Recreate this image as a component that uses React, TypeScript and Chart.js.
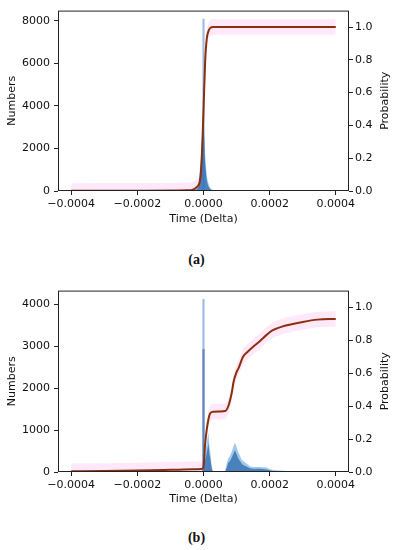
import React, { useEffect, useRef } from 'react';
import { Chart, registerables } from 'chart.js';

Chart.register(...registerables);

// ---- shared ticks ----
const xTicks = [-0.0004, -0.0002, 0, 0.0002, 0.0004];
const probTicks = [0, 0.2, 0.4, 0.6, 0.8, 1.0];
const xMin = -0.00044;
const xMax = 0.00044;
const probMax = 1.1;

// ---- panel (a) ----
const aCountTicks = [0, 2000, 4000, 6000, 8000];
const aCountMax = 8474;
const aHistX = [-0.00004, -0.00003, -0.00002, -0.000015, -0.00001, -0.000005, 0, 0.000005, 0.00001, 0.000015, 0.00002, 0.000025, 0.00003, 0.00004];
const aHistOuter = [0, 40, 150, 350, 1250, 2500, 3800, 1700, 700, 350, 160, 80, 30, 0];
const aHistInner = [0, 15, 70, 200, 850, 1900, 3300, 1300, 480, 200, 90, 40, 10, 0];
const aSpikeX = [0];
const aSpikeCount = [8070];
const aCdfX = [-0.0004, -0.0002, -0.00005, -0.00003, -0.00002, -0.00001, -0.000005, 0, 0.000005, 0.00001, 0.000015, 0.00002, 0.00003, 0.0004];
const aCdfP = [0.001, 0.002, 0.004, 0.01, 0.025, 0.07, 0.21, 0.49, 0.79, 0.93, 0.975, 0.993, 1.0, 1.0];

// ---- panel (b) ----
const bCountTicks = [0, 1000, 2000, 3000, 4000];
const bCountMax = 4330;
const bHistX = [0, 0.000003, 0.000006, 0.000009, 0.000012, 0.000015, 0.000018, 0.000021, 0.000024, 0.000027, 0.00003, 0.000065, 0.00007, 0.000075, 0.00008, 0.000085, 0.00009, 0.000095, 0.0001, 0.000105, 0.00011, 0.000115, 0.00012, 0.00013, 0.00014, 0.00015, 0.00016, 0.00017, 0.00018, 0.00019, 0.0002, 0.00021, 0.00022, 0.00024, 0.00026, 0.00028, 0.0003, 0.00031];
const bHistOuter = [0, 350, 500, 650, 800, 950, 600, 450, 200, 60, 0, 0, 200, 330, 380, 480, 600, 700, 600, 470, 400, 300, 260, 200, 140, 120, 118, 117, 116, 105, 70, 50, 40, 28, 20, 18, 12, 0];
const bHistInner = [0, 200, 320, 420, 550, 700, 420, 300, 120, 30, 0, 0, 100, 220, 260, 340, 430, 520, 430, 330, 270, 200, 170, 130, 90, 80, 75, 75, 70, 60, 40, 25, 20, 12, 8, 6, 4, 0];
const bSpikeX = [0, 0];
const bSpikeCount = [4124, 2930];
const bCdfX = [-0.0004, -0.0003, -0.0002, -0.0001, -0.00003, -0.000005, 0, 0.000005, 0.00001, 0.000015, 0.00002, 0.00003, 0.00005, 0.000066, 0.000076, 0.000086, 0.000091, 0.0001, 0.000106, 0.00012, 0.000132, 0.00015, 0.000171, 0.00019, 0.000207, 0.000243, 0.0003, 0.000345, 0.0004];
const bCdfP = [0.004, 0.006, 0.009, 0.013, 0.016, 0.018, 0.03, 0.17, 0.26, 0.32, 0.355, 0.365, 0.367, 0.37, 0.405, 0.487, 0.547, 0.606, 0.63, 0.7, 0.726, 0.76, 0.795, 0.83, 0.857, 0.885, 0.91, 0.924, 0.928];

// ---- styles ----
const LINE_COLOR = '#8c2f0c';
const GLOW_COLOR = 'rgba(255, 0, 190, 0.09)';
const GLOW_HALF = 0.047;
const OUTER_COLOR = 'rgba(100, 165, 220, 0.6)';
const INNER_COLOR = 'rgba(35, 100, 170, 0.7)';
const SPIKE_COLORS = ['rgba(150, 180, 225, 0.9)', 'rgba(80, 120, 190, 0.8)'];
const FONT = { family: 'DejaVu Sans', size: 11 };
const W = 393;
const H = 230;

const framePlugin = {
  id: 'frame',
  afterDatasetsDraw(chart: any) {
    const { ctx, chartArea: a } = chart;
    ctx.save();
    ctx.strokeStyle = '#222';
    ctx.lineWidth = 1;
    ctx.strokeRect(a.left + 0.5, a.top + 0.5, a.right - a.left - 1, a.bottom - a.top - 1);
    // right axis title, reading bottom-to-top
    ctx.fillStyle = '#111';
    ctx.font = `${FONT.size}px "${FONT.family}"`;
    ctx.textAlign = 'center';
    ctx.textBaseline = 'middle';
    ctx.translate(385, (a.top + a.bottom) / 2);
    ctx.rotate(-Math.PI / 2);
    ctx.fillText('Probability', 0, 0);
    ctx.restore();
  },
};

type PanelProps = {
  top: number;
  plotBottom: number;
  countTicks: number[];
  countMax: number;
  histX: number[];
  histOuter: number[];
  histInner: number[];
  spikeX: number[];
  spikeCount: number[];
  cdfX: number[];
  cdfP: number[];
};

function Panel(p: PanelProps) {
  const ref = useRef<HTMLCanvasElement>(null);
  useEffect(() => {
    const pts = (xs: number[], ys: number[]) => xs.map((x, i) => ({ x, y: ys[i] }));
    const datasets: any[] = [
      {
        type: 'line', data: pts(p.cdfX, p.cdfP), yAxisID: 'y1', borderColor: LINE_COLOR, borderWidth: 2,
        pointRadius: 0, cubicInterpolationMode: 'monotone', fill: false, order: 0,
      },
      {
        type: 'line', data: pts(p.cdfX, p.cdfP.map((v) => v + GLOW_HALF)), yAxisID: 'y1', borderWidth: 0,
        borderColor: 'rgba(0,0,0,0)', pointRadius: 0, cubicInterpolationMode: 'monotone', fill: '+1',
        backgroundColor: GLOW_COLOR, order: 1,
      },
      {
        type: 'line', data: pts(p.cdfX, p.cdfP.map((v) => v - GLOW_HALF)), yAxisID: 'y1', borderWidth: 0,
        borderColor: 'rgba(0,0,0,0)', pointRadius: 0, cubicInterpolationMode: 'monotone', fill: false, order: 1,
      },
      {
        type: 'line', data: pts(p.histX, p.histInner), yAxisID: 'y', borderWidth: 0, borderColor: 'rgba(0,0,0,0)',
        pointRadius: 0, tension: 0, fill: 'origin', backgroundColor: INNER_COLOR, order: 2,
      },
      {
        type: 'line', data: pts(p.histX, p.histOuter), yAxisID: 'y', borderWidth: 0, borderColor: 'rgba(0,0,0,0)',
        pointRadius: 0, tension: 0, fill: 'origin', backgroundColor: OUTER_COLOR, order: 3,
      },
      ...p.spikeX.map((x, i) => ({
        type: 'bar', data: [{ x, y: p.spikeCount[i] }], yAxisID: 'y', backgroundColor: SPIKE_COLORS[i],
        barThickness: 1.5, grouped: false, order: 4 - i * 0.5,
      })),
    ];
    const gridCfg = { display: true, drawOnChartArea: false, drawTicks: true, tickLength: 4, tickColor: '#222', tickWidth: 1, offset: false };
    const chart = new Chart(ref.current!, {
      type: 'line',
      data: { datasets },
      plugins: [framePlugin],
      options: {
        animation: false,
        responsive: false,
        devicePixelRatio: 1,
        layout: { padding: { top: 7, left: 0, right: 0, bottom: 0 } },
        plugins: { legend: { display: false }, tooltip: { enabled: false } },
        scales: {
          x: {
            type: 'linear', position: 'bottom', min: xMin, max: xMax, offset: false,
            afterBuildTicks: (s: any) => { s.ticks = xTicks.map((v) => ({ value: v })); },
            afterFit: (s: any) => { s.height = H - p.plotBottom; },
            ticks: {
              font: FONT, color: '#111', padding: 3, maxRotation: 0, autoSkip: false,
              callback: (v: any) => (v < 0 ? '\u2212' : '') + Math.abs(Number(v)).toFixed(4),
            },
            grid: gridCfg,
            border: { display: false },
            title: { display: true, text: 'Time (Delta)', font: FONT, color: '#111', padding: { top: 0, bottom: 4.4 } },
          },
          y: {
            type: 'linear', position: 'left', min: 0, max: p.countMax,
            afterBuildTicks: (s: any) => { s.ticks = p.countTicks.map((v) => ({ value: v })); },
            afterFit: (s: any) => { s.width = 58; },
            ticks: { font: FONT, color: '#111', padding: 4, callback: (v: any) => String(v) },
            grid: gridCfg,
            border: { display: false },
            title: { display: true, text: 'Numbers', font: FONT, color: '#111', padding: { top: 5.4, bottom: 0 } },
          },
          y1: {
            type: 'linear', position: 'right', min: 0, max: probMax,
            afterBuildTicks: (s: any) => { s.ticks = probTicks.map((v) => ({ value: v })); },
            afterFit: (s: any) => { s.width = 44; },
            ticks: { font: FONT, color: '#111', padding: 2, callback: (v: any) => Number(v).toFixed(1) },
            grid: gridCfg,
            border: { display: false },
            title: { display: false },
          },
        },
      } as any,
    });
    return () => chart.destroy();
  }, []);
  return (
    <canvas
      ref={ref}
      width={W}
      height={H}
      style={{ position: 'absolute', left: 0, top: p.top, width: W, height: H }}
    />
  );
}

const captionStyle: React.CSSProperties = {
  position: 'absolute', left: 0, width: W, textAlign: 'center',
  fontFamily: '"Liberation Serif", serif', fontWeight: 'bold', fontSize: 14, lineHeight: '16px', color: '#111',
};

export default function App() {
  return (
    <div style={{ position: 'absolute', left: 0, top: 0, width: W, height: 550, background: '#fff' }}>
      <Panel top={0} plotBottom={191} countTicks={aCountTicks} countMax={aCountMax}
        histX={aHistX} histOuter={aHistOuter} histInner={aHistInner}
        spikeX={aSpikeX} spikeCount={aSpikeCount} cdfX={aCdfX} cdfP={aCdfP} />
      <div style={{ ...captionStyle, top: 252 }}>(a)</div>
      <Panel top={280} plotBottom={192} countTicks={bCountTicks} countMax={bCountMax}
        histX={bHistX} histOuter={bHistOuter} histInner={bHistInner}
        spikeX={bSpikeX} spikeCount={bSpikeCount} cdfX={bCdfX} cdfP={bCdfP} />
      <div style={{ ...captionStyle, top: 530 }}>(b)</div>
    </div>
  );
}
